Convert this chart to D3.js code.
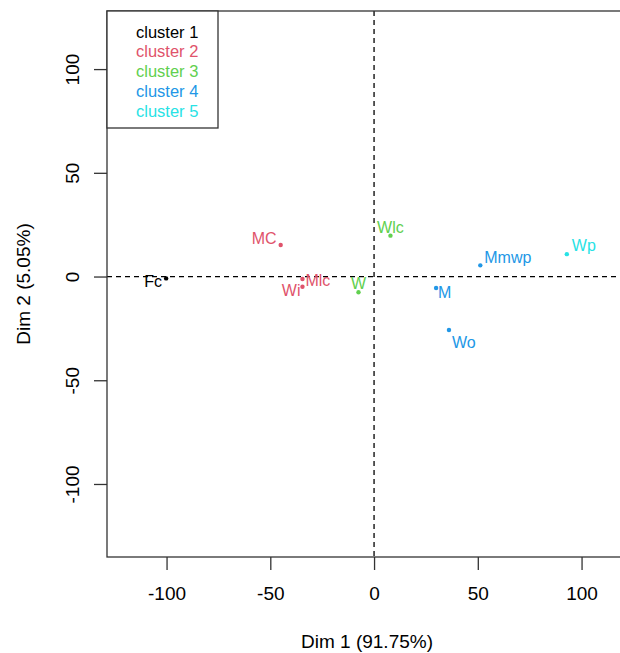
<!DOCTYPE html>
<html>
<head>
<meta charset="utf-8">
<script src="https://cdn.jsdelivr.net/npm/d3@7"></script>
<style>
  body { margin: 0; background: #fff; }
  svg { display: block; font-family: "Liberation Sans", Arial, sans-serif; }
</style>
</head>
<body>
<div id="chart"></div>
<script>
// values
var names = ["Fc", "MC", "Mlc", "Wi", "W", "Wlc", "Mmwp", "Wp", "M", "Wo"];
var dim1 = [-100.2, -45.0, -34.5, -34.5, -7.5, 7.9, 51.2, 92.9, 29.9, 36.1];
var dim2 = [-0.9, 15.2, -1.2, -4.9, -7.6, 19.7, 5.4, 10.8, -5.5, -25.8];
var cluster = [1, 2, 2, 2, 3, 3, 4, 5, 4, 4];

var clusterNames = ["cluster 1", "cluster 2", "cluster 3", "cluster 4", "cluster 5"];
var xTicks = [-100, -50, 0, 50, 100];
var yTicks = [-100, -50, 0, 50, 100];
var xTitle = "Dim 1 (91.75%)";
var yTitle = "Dim 2 (5.05%)";

// label placement (anchor, dx, dy in px), like R's text pos
var labelAnchor = ["end", "end", "start", "end", "middle", "middle", "start", "start", "start", "start"];
var labelDx = [-4, -4, 3, -2, 0, 0, 4, 5, 2, 3];
var labelDy = [3, -7, 1, 4, -9, -8, -8, -9, 4, 12];

var palette = ["#000000", "#DF536B", "#61D04F", "#2297E6", "#28E2E5"];

var width = 620, height = 653;
var plot = { left: 107, right: 627, top: 11, bottom: 557 };

var svg = d3.select("#chart").append("svg")
    .attr("width", width)
    .attr("height", height);

var x = d3.scaleLinear().domain([-128.7, 121.9]).range([plot.left, plot.right]);
var y = d3.scaleLinear().domain([-135.2, 128]).range([plot.bottom, plot.top]);

// R prints a plain hyphen for negatives
var fmt = function(d) { return String(d); };

// reference lines through the origin
svg.append("line")
    .attr("x1", x(0)).attr("x2", x(0))
    .attr("y1", plot.top).attr("y2", plot.bottom)
    .attr("stroke", "#000").attr("stroke-width", 1.3)
    .attr("stroke-dasharray", "5,4");
svg.append("line")
    .attr("x1", plot.left).attr("x2", plot.right)
    .attr("y1", y(0)).attr("y2", y(0))
    .attr("stroke", "#000").attr("stroke-width", 1.3)
    .attr("stroke-dasharray", "5,4");

// x axis
var xAxis = svg.append("g")
    .attr("transform", "translate(0," + plot.bottom + ")")
    .call(d3.axisBottom(x).tickValues(xTicks).tickSize(13).tickFormat(fmt));
xAxis.select(".domain").remove();
xAxis.selectAll(".tick line").attr("stroke", "#333").attr("stroke-width", 1.3);
xAxis.selectAll(".tick text")
    .attr("y", 36).attr("dy", "0.35em")
    .attr("fill", "#000")
    .style("font-size", "19px")
    .style("font-family", "Liberation Sans, Arial, sans-serif");

// y axis
var yAxis = svg.append("g")
    .attr("transform", "translate(" + plot.left + ",0)")
    .call(d3.axisLeft(y).tickValues(yTicks).tickSize(13).tickFormat(fmt));
yAxis.select(".domain").remove();
yAxis.selectAll(".tick line").attr("stroke", "#333").attr("stroke-width", 1.3);
yAxis.selectAll(".tick text")
    .attr("x", 0).attr("y", 0).attr("dy", "0.35em")
    .attr("text-anchor", "middle")
    .attr("transform", "translate(-35,0) rotate(-90)")
    .attr("fill", "#000")
    .style("font-size", "19px")
    .style("font-family", "Liberation Sans, Arial, sans-serif");

// plot box
svg.append("rect")
    .attr("x", plot.left).attr("y", plot.top)
    .attr("width", plot.right - plot.left)
    .attr("height", plot.bottom - plot.top)
    .attr("fill", "none")
    .attr("stroke", "#333").attr("stroke-width", 1.3);

// axis titles
svg.append("text")
    .attr("x", (plot.left + plot.right) / 2)
    .attr("y", 641).attr("dy", "0.35em")
    .attr("text-anchor", "middle")
    .style("font-size", "19px")
    .text(xTitle);
svg.append("text")
    .attr("transform", "translate(23," + (plot.top + plot.bottom) / 2 + ") rotate(-90)")
    .attr("dy", "0.35em")
    .attr("text-anchor", "middle")
    .style("font-size", "19px")
    .text(yTitle);

// points and labels
var pts = names.map(function(n, i) {
    return { name: n, x: dim1[i], y: dim2[i], c: cluster[i], i: i };
});

svg.selectAll("circle.pt")
    .data(pts)
    .enter()
    .append("circle")
    .attr("class", "pt")
    .attr("cx", function(d) { return x(d.x); })
    .attr("cy", function(d) { return y(d.y); })
    .attr("r", 2.2)
    .attr("fill", function(d) { return palette[d.c - 1]; });

svg.selectAll("text.lab")
    .data(pts)
    .enter()
    .append("text")
    .attr("class", "lab")
    .attr("x", function(d) { return x(d.x) + labelDx[d.i]; })
    .attr("y", function(d) { return y(d.y) + labelDy[d.i]; })
    .attr("dy", "0.35em")
    .attr("text-anchor", function(d) { return labelAnchor[d.i]; })
    .attr("fill", function(d) { return palette[d.c - 1]; })
    .style("font-size", "16px")
    .text(function(d) { return d.name; });

// legend
var legend = svg.append("g");
legend.append("rect")
    .attr("x", plot.left).attr("y", plot.top)
    .attr("width", 111).attr("height", 117)
    .attr("fill", "#fff")
    .attr("stroke", "#333").attr("stroke-width", 1.3);
legend.selectAll("text")
    .data(clusterNames)
    .enter()
    .append("text")
    .attr("x", 136)
    .attr("y", function(d, i) { return 32 + i * 19.7; })
    .attr("dy", "0.35em")
    .attr("fill", function(d, i) { return palette[i]; })
    .style("font-size", "16.5px")
    .text(function(d) { return d; });
</script>
</body>
</html>
